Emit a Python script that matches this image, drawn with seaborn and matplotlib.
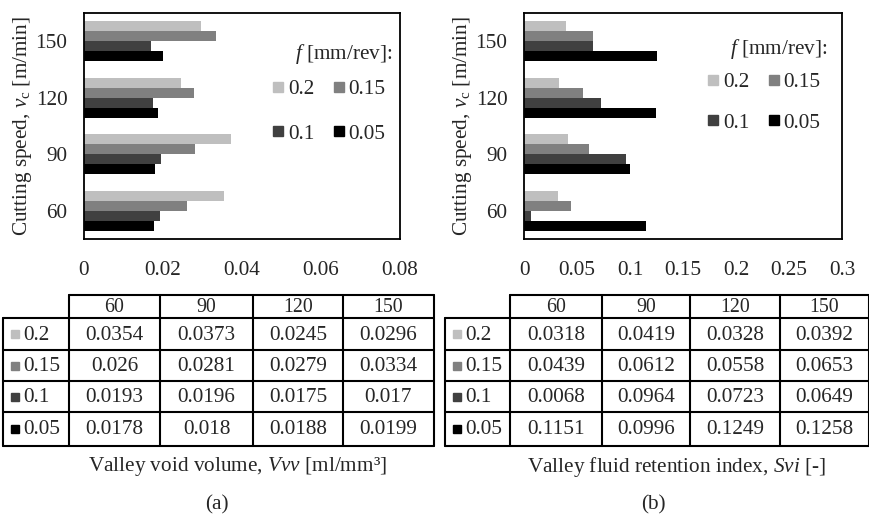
import numpy as np
import pandas as pd
import seaborn as sns
import matplotlib
matplotlib.use("Agg")
import matplotlib.pyplot as plt
from matplotlib.lines import Line2D

# ---------------- data ----------------
speeds = ["60", "90", "120", "150"]
feeds = ["0.2", "0.15", "0.1", "0.05"]

vvv_f02 = [0.0354, 0.0373, 0.0245, 0.0296]
vvv_f015 = [0.026, 0.0281, 0.0279, 0.0334]
vvv_f01 = [0.0193, 0.0196, 0.0175, 0.017]
vvv_f005 = [0.0178, 0.018, 0.0188, 0.0199]

svi_f02 = [0.0318, 0.0419, 0.0328, 0.0392]
svi_f015 = [0.0439, 0.0612, 0.0558, 0.0653]
svi_f01 = [0.0068, 0.0964, 0.0723, 0.0649]
svi_f005 = [0.1151, 0.0996, 0.1249, 0.1258]

colors = ["#bfbfbf", "#808080", "#404040", "#000000"]

xticks_a = [0, 0.02, 0.04, 0.06, 0.08]
xticks_b = [0, 0.05, 0.1, 0.15, 0.2, 0.25, 0.3]

xlabel_a = "Valley void volume, $Vvv$ [ml/mm\u00b3]"
xlabel_b = "Valley fluid retention index, $Svi$ [-]"
ylabel = "Cutting speed, $v_\\mathrm{c}$ [m/min]"
legend_title = "$f$ [mm/rev]:"


def long_df(series):
    rows = []
    for feed, vals in zip(feeds, series):
        for s, v in zip(speeds, vals):
            rows.append({"speed": s, "feed": feed, "value": v})
    return pd.DataFrame(rows)


df_a = long_df([vvv_f02, vvv_f015, vvv_f01, vvv_f005])
df_b = long_df([svi_f02, svi_f015, svi_f01, svi_f005])

# ---------------- style ----------------
sns.set_theme(style="white")
plt.rcParams["font.family"] = ["Liberation Serif", "DejaVu Serif"]
plt.rcParams["mathtext.fontset"] = "custom"
plt.rcParams["mathtext.rm"] = "Liberation Serif"
plt.rcParams["mathtext.it"] = "Liberation Serif:italic"
plt.rcParams["mathtext.bf"] = "Liberation Serif:bold"

FS = 15.3
W, H = 870, 517
fig = plt.figure(figsize=(8.7, 5.17), dpi=100)


def px_axes(x0, y0, x1, y1):
    return fig.add_axes([x0 / W, 1 - y1 / H, (x1 - x0) / W, (y1 - y0) / H])


def to_fig(x, y):
    return (x / W, 1 - y / H)


def draw_panel(ax, df, xticks, leg_right, title_y, row1_y, row2_y, msize):
    sns.barplot(data=df, x="value", y="speed", hue="feed",
                order=speeds[::-1], hue_order=feeds, palette=colors,
                orient="h", width=0.7, saturation=1, linewidth=0,
                errorbar=None, legend=False, ax=ax)
    ax.set_xlim(xticks[0], xticks[-1])
    ax.set_ylim(3.5, -0.5)
    ax.set_xticks(xticks)
    ax.set_xticklabels([f"{t:g}" for t in xticks], fontsize=FS)
    ax.tick_params(axis="x", length=0, pad=16)
    ax.tick_params(axis="y", length=0, pad=12, labelsize=FS)
    ax.set_xlabel("")
    ax.set_ylabel(ylabel, fontsize=FS, labelpad=1)
    for sp in ax.spines.values():
        sp.set_visible(True)
        sp.set_color("black")
        sp.set_linewidth(1.3)
    handles = [Line2D([], [], marker="s", linestyle="", color=c,
                      markersize=msize) for c in colors]
    order = [0, 2, 1, 3]
    spacing_px = row2_y - row1_y
    ls = (spacing_px - 18.5) / (FS * 100 / 72)
    leg = ax.legend([handles[i] for i in order], [feeds[i] for i in order],
                    ncol=2, frameon=False,
                    loc="center right",
                    bbox_to_anchor=to_fig(leg_right, (row1_y + row2_y) / 2 + 3),
                    bbox_transform=fig.transFigure,
                    fontsize=FS, borderpad=0,
                    labelspacing=ls, handletextpad=0.2,
                    columnspacing=0.9, handlelength=0.5)
    fx, fy = to_fig(leg_right - 3, title_y + 3)
    fig.text(fx, fy, legend_title, ha="right", va="center", fontsize=FS)
    return leg


ax_a = px_axes(84, 13, 400, 239)
ax_b = px_axes(524, 13, 842, 239)
draw_panel(ax_a, df_a, xticks_a, 396, 51, 87, 130, 6.5)
draw_panel(ax_b, df_b, xticks_b, 831, 46, 80, 119, 7.5)

# ---------------- tables ----------------
tax = fig.add_axes([0, 0, 1, 1])
tax.set_xlim(0, W)
tax.set_ylim(H, 0)
tax.axis("off")

y_edges = [295, 318, 350, 381, 412, 446]
LW = 1.5


def draw_table(x_edges, series, xlabel, xlabel_x, tag, tag_x):
    tax.plot([x_edges[1], x_edges[-1]], [y_edges[0], y_edges[0]], color="black", lw=LW)
    for yy in y_edges[1:]:
        tax.plot([x_edges[0], x_edges[-1]], [yy, yy], color="black", lw=LW)
    tax.plot([x_edges[0], x_edges[0]], [y_edges[1], y_edges[-1]], color="black", lw=LW)
    for xx in x_edges[1:]:
        tax.plot([xx, xx], [y_edges[0], y_edges[-1]], color="black", lw=LW)
    for j, s in enumerate(speeds):
        cx = (x_edges[j + 1] + x_edges[j + 2]) / 2
        cy = (y_edges[0] + y_edges[1]) / 2
        tax.text(cx, cy + 1, s, ha="center", va="center", fontsize=FS - 1)
    for i, (feed, vals) in enumerate(zip(feeds, series)):
        cy = (y_edges[i + 1] + y_edges[i + 2]) / 2
        tax.plot([x_edges[0] + 12], [cy], marker="s", color=colors[i],
                 markersize=5.5, linestyle="")
        tax.text(x_edges[0] + 20, cy + 1, feed, ha="left", va="center", fontsize=FS)
        for j, v in enumerate(vals):
            cx = (x_edges[j + 1] + x_edges[j + 2]) / 2
            tax.text(cx, cy + 1, f"{v:g}", ha="center", va="center", fontsize=FS)
    tax.text(xlabel_x, 467, xlabel, ha="center", va="center", fontsize=FS)
    tax.text(tag_x, 505, tag, ha="center", va="center", fontsize=FS)


draw_table([3, 69, 160, 253, 343, 434],
           [vvv_f02, vvv_f015, vvv_f01, vvv_f005], xlabel_a, 237, "(a)", 217)
draw_table([445, 510, 602, 690, 780, 869],
           [svi_f02, svi_f015, svi_f01, svi_f005], xlabel_b, 677, "(b)", 653)

fig.savefig("out.png", dpi=100)
